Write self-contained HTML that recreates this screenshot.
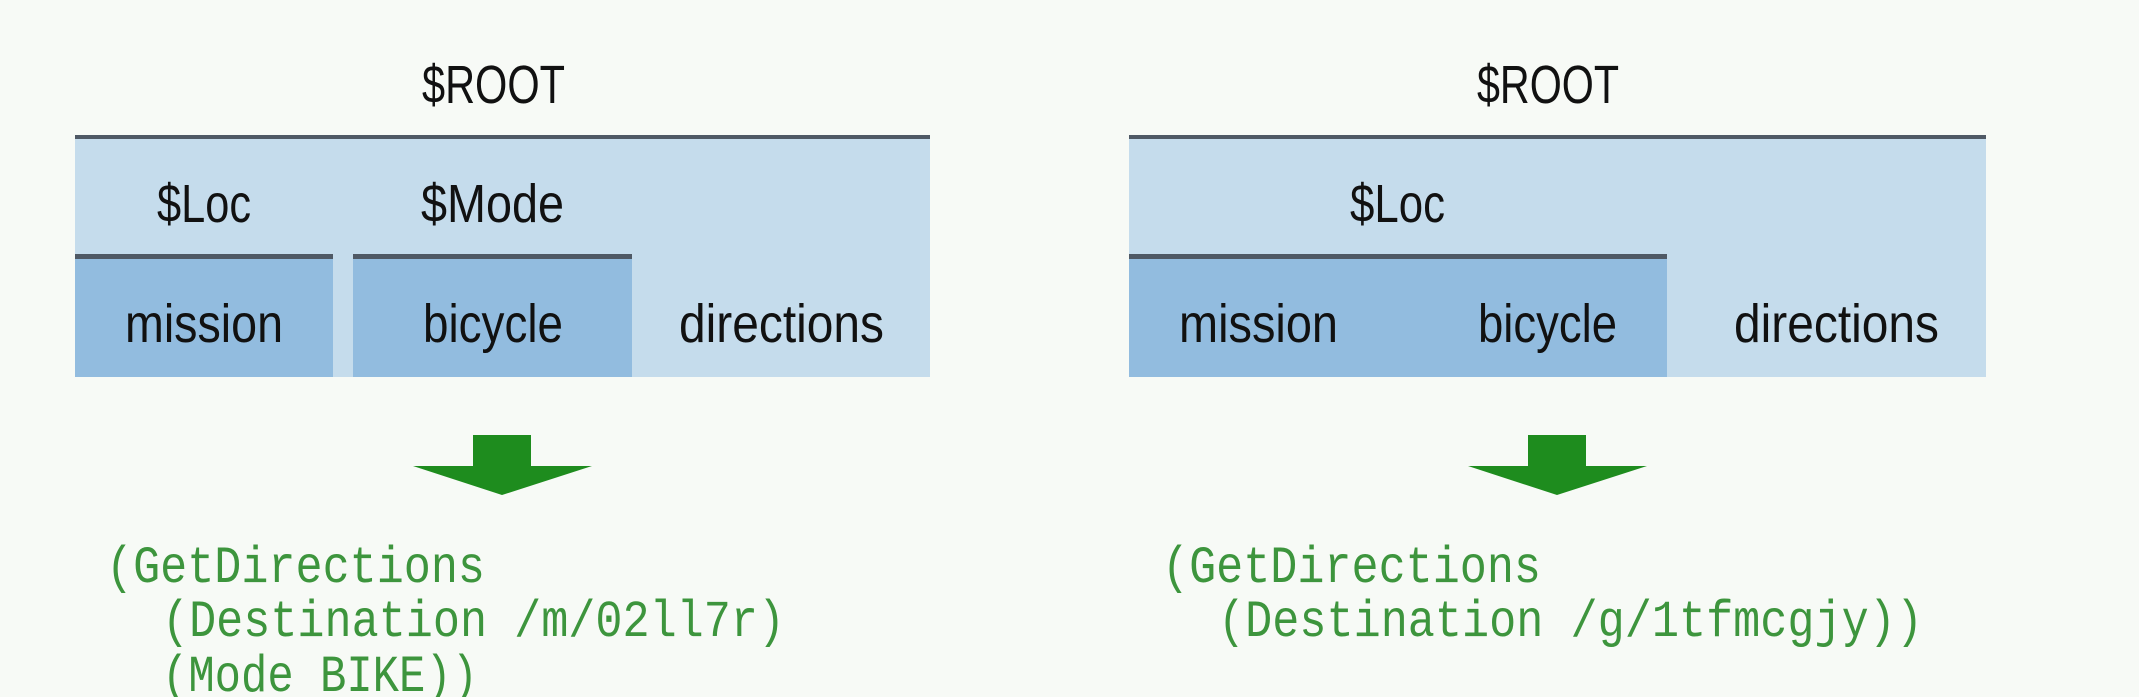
<!DOCTYPE html>
<html><head><meta charset="utf-8"><style>
html,body{margin:0;padding:0;background:#f7faf6;}
svg{display:block}
.s{font-family:"Liberation Sans",sans-serif;font-size:54px;fill:#111;}
.c{font-family:"Liberation Mono",monospace;font-size:52px;fill:#3d953d;}
</style></head><body>
<svg width="2139" height="697" viewBox="0 0 2139 697" xmlns="http://www.w3.org/2000/svg">
<rect width="2139" height="697" fill="#f7faf6"/>
<rect x="75" y="137" width="855" height="240" fill="#c5dcec"/>
<rect x="75" y="135" width="855" height="4" fill="#4f5965"/>
<rect x="75" y="257" width="258" height="120" fill="#92bcdf"/>
<rect x="75" y="254" width="258" height="5" fill="#4f5965"/>
<rect x="353" y="257" width="279" height="120" fill="#92bcdf"/>
<rect x="353" y="254" width="279" height="5" fill="#4f5965"/>
<text class="s" x="422" y="103" textLength="143" lengthAdjust="spacingAndGlyphs">$ROOT</text>
<text class="s" x="157" y="222" textLength="94" lengthAdjust="spacingAndGlyphs">$Loc</text>
<text class="s" x="421" y="222" textLength="143" lengthAdjust="spacingAndGlyphs">$Mode</text>
<text class="s" x="125" y="342" textLength="158" lengthAdjust="spacingAndGlyphs">mission</text>
<text class="s" x="423" y="342" textLength="140" lengthAdjust="spacingAndGlyphs">bicycle</text>
<text class="s" x="679" y="342" textLength="205" lengthAdjust="spacingAndGlyphs">directions</text>
<polygon points="473,435 531,435 531,466 592,466 502,495 413,466 473,466" fill="#1e8c1e"/>
<text class="c" x="106" y="582" textLength="379" lengthAdjust="spacingAndGlyphs">(GetDirections</text>
<text class="c" x="162" y="636" textLength="623" lengthAdjust="spacingAndGlyphs">(Destination /m/02ll7r)</text>
<text class="c" x="162" y="691" textLength="316" lengthAdjust="spacingAndGlyphs">(Mode BIKE))</text>
<rect x="1129" y="137" width="857" height="240" fill="#c5dcec"/>
<rect x="1129" y="135" width="857" height="4" fill="#4f5965"/>
<rect x="1129" y="257" width="538" height="120" fill="#92bcdf"/>
<rect x="1129" y="254" width="538" height="5" fill="#4f5965"/>
<text class="s" x="1477" y="103" textLength="142" lengthAdjust="spacingAndGlyphs">$ROOT</text>
<text class="s" x="1350" y="222" textLength="95" lengthAdjust="spacingAndGlyphs">$Loc</text>
<text class="s" x="1179" y="342" textLength="159" lengthAdjust="spacingAndGlyphs">mission</text>
<text class="s" x="1478" y="342" textLength="139" lengthAdjust="spacingAndGlyphs">bicycle</text>
<text class="s" x="1734" y="342" textLength="205" lengthAdjust="spacingAndGlyphs">directions</text>
<polygon points="1528,435 1586,435 1586,466 1647,466 1557,495 1468,466 1528,466" fill="#1e8c1e"/>
<text class="c" x="1162" y="582" textLength="379" lengthAdjust="spacingAndGlyphs">(GetDirections</text>
<text class="c" x="1218" y="636" textLength="705" lengthAdjust="spacingAndGlyphs">(Destination /g/1tfmcgjy))</text>
</svg>
</body></html>
